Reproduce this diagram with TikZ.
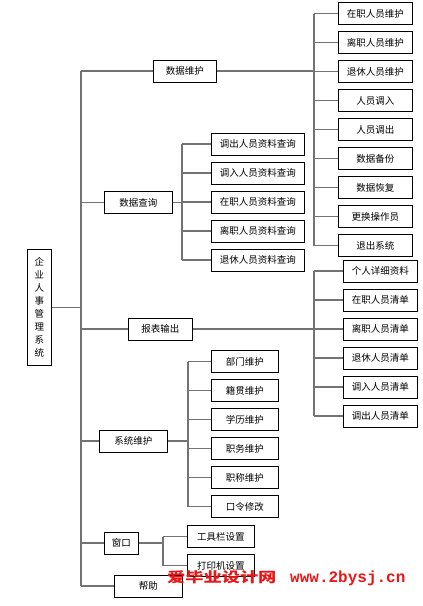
\documentclass[tikz,border=0pt]{standalone}
\usepackage{fontspec}
\newfontfamily\cjk{Noto Sans CJK SC}
\newfontfamily\wmmono{Liberation Mono}
\definecolor{wire}{RGB}{115,115,115}
\definecolor{stamp}{RGB}{232,22,22}
\tikzset{
  item/.style={draw=black,line width=0.6pt,fill=white,inner sep=0pt,anchor=west,
    minimum height=22pt,minimum width=#1,font=\cjk\fontsize{9.5}{11}\selectfont},
  item/.default=68pt,
  link/.style={draw=wire,line width=1.1pt},
  stampfont/.style={anchor=base west,inner sep=0pt,text=stamp},
}

\begin{document}
\begin{tikzpicture}[x=1pt,y=-1pt]
  \useasboundingbox (0,0) rectangle (423,606);
  % root and spine
  \node[item=24pt,anchor=north west,minimum height=116pt,align=center,
    font=\cjk\fontsize{9.5}{13}\selectfont] (root) at (27,249) {企\\业\\人\\事\\管\\理\\系\\统};
  \coordinate (spine) at (81,0);
  % first level
  \node[item=63pt] (dm) at (153,71) {数据维护};
  \node[item=68pt] (dq) at (104,202.5) {数据查询};
  \node[item=64pt] (bb) at (128,329) {报表输出};
  \node[item=68pt] (xt) at (99,441) {系统维护};
  \node[item=34pt] (ck) at (104,543) {窗口};
  \node[item=68pt] (bz) at (114,586) {帮助};
  \draw[link] (root.east) -- (root.east -| spine);
  \draw[link] (dm.west -| spine) -- (bz.west -| spine);
  \foreach \n in {dm,dq,bb,xt,ck,bz} \draw[link] (\n.west -| spine) -- (\n.west);
  % data maintenance
  \coordinate (dmbus) at (314,0);
  \foreach \t [count=\i] in {在职人员维护,离职人员维护,退休人员维护,人员调入,人员调出,
      数据备份,数据恢复,更换操作员,退出系统}
    \node[item=74pt] (dm\i) at (338,{13.5+29*(\i-1)}) {\t};
  \draw[link] (dm.east) -- (dm.east -| dmbus);
  \draw[link] (dm1.west -| dmbus) -- (dm9.west -| dmbus);
  \foreach \i in {1,...,9} \draw[link] (dm\i.west -| dmbus) -- (dm\i.west);
  % data query
  \coordinate (dqbus) at (182,0);
  \foreach \t [count=\i] in {调出人员资料查询,调入人员资料查询,在职人员资料查询,
      离职人员资料查询,退休人员资料查询}
    \node[item=93pt] (dq\i) at (211,{144+29*(\i-1)}) {\t};
  \draw[link] (dq.east) -- (dq.east -| dqbus);
  \draw[link] (dq1.west -| dqbus) -- (dq5.west -| dqbus);
  \foreach \i in {1,...,5} \draw[link] (dq\i.west -| dqbus) -- (dq\i.west);
  % report output
  \coordinate (bbbus) at (314,0);
  \foreach \t [count=\i] in {个人详细资料,在职人员清单,离职人员清单,退休人员清单,
      调入人员清单,调出人员清单}
    \node[item=74pt] (bb\i) at (343,{271+29*(\i-1)}) {\t};
  \draw[link] (bb.east) -- (bb3.west);
  \draw[link] (bb1.west -| bbbus) -- (bb6.west -| bbbus);
  \foreach \i in {1,...,6} \draw[link] (bb\i.west -| bbbus) -- (bb\i.west);
  % system maintenance
  \coordinate (xtbus) at (188,0);
  \foreach \t [count=\i] in {部门维护,籍贯维护,学历维护,职务维护,职称维护,口令修改}
    \node[item=67pt] (xt\i) at (211,{361.5+29*(\i-1)}) {\t};
  \draw[link] (xt.east) -- (xt.east -| xtbus);
  \draw[link] (xt1.west -| xtbus) -- (xt6.west -| xtbus);
  \foreach \i in {1,...,6} \draw[link] (xt\i.west -| xtbus) -- (xt\i.west);
  % window
  \coordinate (ckbus) at (163,0);
  \foreach \t [count=\i] in {工具栏设置,打印机设置}
    \node[item=67pt] (ck\i) at (187,{536.5+29*(\i-1)}) {\t};
  \draw[link] (ck.east) -- (ck.east -| ckbus);
  \draw[link] (ck1.west -| ckbus) -- (ck2.west -| ckbus);
  \foreach \i in {1,2} \draw[link] (ck\i.west -| ckbus) -- (ck\i.west);
  % watermark
  \node[stampfont,font=\cjk\bfseries\fontsize{14}{14}\selectfont] (wmcn) at (167,582)
    {\scalebox{1.3}[1]{爱毕业设计网}};
  \node[stampfont,font=\wmmono\bfseries\fontsize{16}{16}\selectfont] (wmurl) at (290,582)
    {www.2bysj.cn};
\end{tikzpicture}
\end{document}
